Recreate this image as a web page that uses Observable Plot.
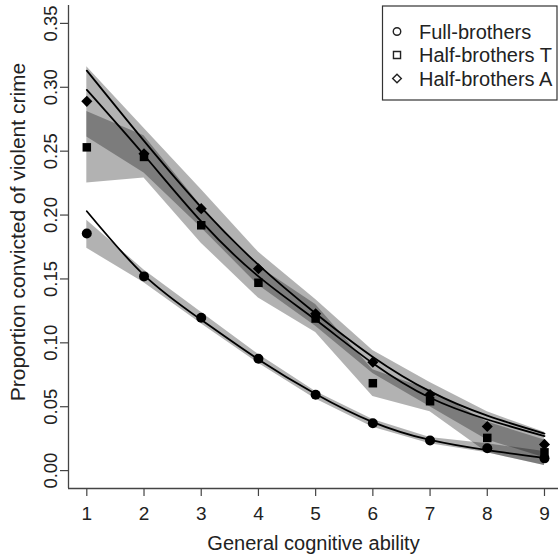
<!DOCTYPE html>
<html>
<head>
<meta charset="utf-8">
<script src="https://cdn.jsdelivr.net/npm/d3@7"></script>
<script src="https://cdn.jsdelivr.net/npm/@observablehq/plot@0.6"></script>
<style>
  body { margin: 0; background: #fff; }
  #chart { position: relative; width: 558px; height: 555px; }
  svg { font-family: "Liberation Sans", Arial, sans-serif; }
</style>
</head>
<body>
<div id="chart"></div>
<script>
// ---- data ----
const ability = [1, 2, 3, 4, 5, 6, 7, 8, 9];
const yTicks = [0.00, 0.05, 0.10, 0.15, 0.20, 0.25, 0.30, 0.35];
const seriesNames = ["Full-brothers", "Half-brothers T", "Half-brothers A"];

// observed proportions
const fullObs  = [0.1855, 0.152, 0.1197, 0.0875, 0.0593, 0.0370, 0.0235, 0.0175, 0.0096];
const halfTObs = [0.253, 0.2455, 0.192, 0.147, 0.119, 0.0684, 0.0543, 0.0256, 0.0143];
const halfAObs = [0.289, 0.248, 0.205, 0.158, 0.1228, 0.0849, 0.0596, 0.0345, 0.0205];

// fitted curves
const fullFit  = [0.203, 0.153, 0.118, 0.087, 0.060, 0.038, 0.024, 0.016, 0.010];
const halfTFit = [0.298, 0.247, 0.195, 0.152, 0.118, 0.084, 0.057, 0.040, 0.027];
const halfAFit = [0.313, 0.258, 0.206, 0.161, 0.123, 0.089, 0.062, 0.043, 0.029];

// confidence bands
const fullLo  = [0.174, 0.147, 0.115, 0.084, 0.056, 0.034, 0.021, 0.014, 0.004];
const fullHi  = [0.196, 0.157, 0.124, 0.091, 0.062, 0.040, 0.026, 0.021, 0.015];
const halfTLo = [0.225, 0.229, 0.178, 0.135, 0.108, 0.058, 0.046, 0.014, 0.004];
const halfTHi = [0.281, 0.262, 0.207, 0.160, 0.130, 0.079, 0.063, 0.038, 0.024];
const halfALo = [0.261, 0.233, 0.190, 0.145, 0.113, 0.076, 0.050, 0.024, 0.010];
const halfAHi = [0.316, 0.268, 0.220, 0.171, 0.134, 0.094, 0.069, 0.046, 0.030];

// ---- build tables ----
const mk = (obs, fit, lo, hi, name) => ability.map((x, i) => ({x, obs: obs[i], fit: fit[i], lo: lo[i], hi: hi[i], name}));
const full = mk(fullObs, fullFit, fullLo, fullHi, seriesNames[0]);
const halfT = mk(halfTObs, halfTFit, halfTLo, halfTHi, seriesNames[1]);
const halfA = mk(halfAObs, halfAFit, halfALo, halfAHi, seriesNames[2]);

const xDomain = [0.68, 9.245];
const yDomain = [-0.014, 0.364];
const ink = "#222";
const bandOpacity = 0.3;
const symbols = ["circle", "square", "diamond2"];

const plot = Plot.plot({
  width: 558,
  height: 555,
  marginLeft: 68,
  marginRight: 0,
  marginTop: 5,
  marginBottom: 67,
  style: {fontFamily: "Liberation Sans, Arial, sans-serif", color: ink, background: "#fff"},
  x: {domain: xDomain},
  y: {domain: yDomain},
  marks: [
    Plot.areaY(full,  {x: "x", y1: "lo", y2: "hi", fill: "black", fillOpacity: bandOpacity}),
    Plot.areaY(halfT, {x: "x", y1: "lo", y2: "hi", fill: "black", fillOpacity: bandOpacity}),
    Plot.areaY(halfA, {x: "x", y1: "lo", y2: "hi", fill: "black", fillOpacity: bandOpacity}),
    Plot.line(full,  {x: "x", y: "fit", stroke: "black", strokeWidth: 1.8, curve: "natural"}),
    Plot.line(halfT, {x: "x", y: "fit", stroke: "black", strokeWidth: 1.8, curve: "natural"}),
    Plot.line(halfA, {x: "x", y: "fit", stroke: "black", strokeWidth: 1.8, curve: "natural"}),
    Plot.dot(full,  {x: "x", y: "obs", symbol: symbols[0], r: 5, fill: "black"}),
    Plot.dot(halfT, {x: "x", y: "obs", symbol: symbols[1], r: 4.8, fill: "black"}),
    Plot.dot(halfA, {x: "x", y: "obs", symbol: symbols[2], r: 5, fill: "black"}),
    Plot.axisX({ticks: ability, tickSize: 8, tickPadding: 10, fontSize: 19, label: null, stroke: "#444", strokeWidth: 1.2}),
    Plot.axisY({ticks: yTicks, tickSize: 8, tickRotate: -90, tickPadding: 4, fontSize: 18.5, label: null,
                tickFormat: d3.format(".2f"), stroke: "#444", strokeWidth: 1.2}),
    Plot.ruleX([xDomain[0]], {stroke: "#444", strokeWidth: 1.3}),
    Plot.ruleY([yDomain[0]], {stroke: "#444", strokeWidth: 1.3}),
    Plot.text(["General cognitive ability"], {frameAnchor: "bottom", textAnchor: "middle", lineAnchor: "middle", dy: 55.5, fontSize: 20, fill: ink}),
    Plot.text(["Proportion convicted of violent crime"], {frameAnchor: "left", textAnchor: "middle", lineAnchor: "middle", rotate: -90, dx: -50, dy: -15, fontSize: 21, fill: ink})
  ]
});

// ---- legend (drawn into the same SVG) ----
const svg = d3.select(plot);
const lg = svg.append("g").attr("font-family", "Liberation Sans, Arial, sans-serif").attr("text-anchor", "start");
lg.append("rect").attr("x", 382.5).attr("y", 6).attr("width", 174.5).attr("height", 94)
  .attr("fill", "white").attr("stroke", "#333").attr("stroke-width", 1.2);
const rows = [31.5, 55, 78.5];
seriesNames.forEach((name, i) => {
  const sym = i === 0 ? d3.symbolCircle : i === 1 ? d3.symbolSquare : d3.symbolDiamond2;
  const size = i === 0 ? 44 : i === 1 ? 50 : 48;
  lg.append("path").attr("d", d3.symbol(sym, size)())
    .attr("transform", `translate(397,${rows[i]})`)
    .attr("fill", "none").attr("stroke", "#222").attr("stroke-width", 1.4);
  lg.append("text").attr("x", 419).attr("y", rows[i]).attr("dy", "0.36em")
    .attr("text-anchor", "start").attr("font-size", 20).attr("fill", ink).text(name);
});

document.getElementById("chart").appendChild(plot);
</script>
</body>
</html>
